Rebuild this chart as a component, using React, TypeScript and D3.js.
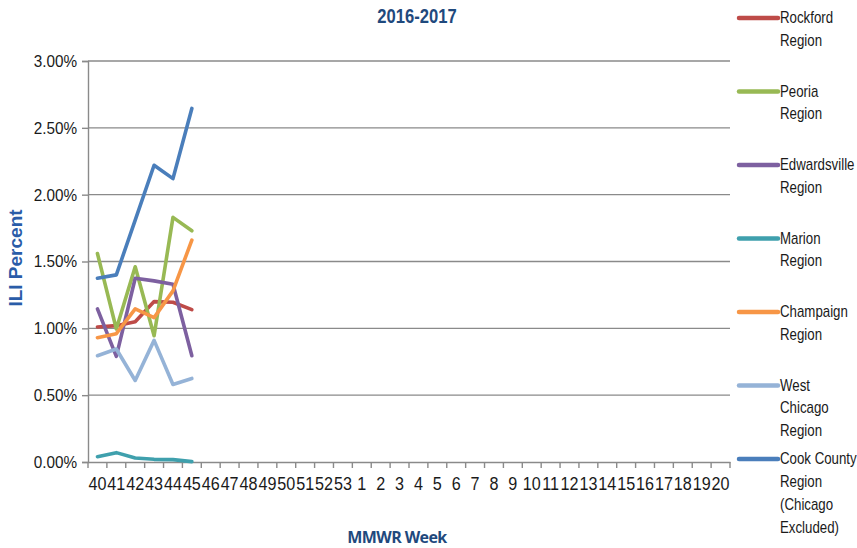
import React, { useRef, useEffect } from 'react';
import * as d3 from 'd3';

const weeks = [
  '40', '41', '42', '43', '44', '45', '46', '47', '48', '49', '50', '51', '52', '53',
  '1', '2', '3', '4', '5', '6', '7', '8', '9', '10', '11', '12', '13', '14', '15', '16', '17', '18', '19', '20',
];

const seriesNames = [
  'Rockford Region',
  'Peoria Region',
  'Edwardsville Region',
  'Marion Region',
  'Champaign Region',
  'West Chicago Region',
  'Cook County Region (Chicago Excluded)',
];

const legendLines = [
  ['Rockford', 'Region'],
  ['Peoria', 'Region'],
  ['Edwardsville', 'Region'],
  ['Marion', 'Region'],
  ['Champaign', 'Region'],
  ['West', 'Chicago', 'Region'],
  ['Cook County', 'Region', '(Chicago', 'Excluded)'],
];

const colors = ['#be4b48', '#98b954', '#7d60a0', '#3fa0ad', '#f79646', '#95b3d7', '#4a7ebb'];

// ILI percent, weeks 40-45
const rockford = [1.01, 1.02, 1.05, 1.2, 1.195, 1.14];
const peoria = [1.56, 0.995, 1.46, 0.945, 1.83, 1.73];
const edwardsville = [1.145, 0.79, 1.375, 1.355, 1.33, 0.795];
const marion = [0.04, 0.07, 0.03, 0.02, 0.018, 0.003];
const champaign = [0.93, 0.96, 1.145, 1.08, 1.28, 1.66];
const westChicago = [0.795, 0.845, 0.61, 0.91, 0.58, 0.625];
const cookCounty = [1.375, 1.4, 1.81, 2.22, 2.12, 2.645];

const yTicks = [0, 0.5, 1, 1.5, 2, 2.5, 3];

const seriesValues = [rockford, peoria, edwardsville, marion, champaign, westChicago, cookCounty];

const sans = "'Liberation Sans', Arial, sans-serif";
const squeeze = 0.83;

const Chart = () => {
  const ref = useRef<SVGSVGElement>(null);

  useEffect(() => {
    const svg = d3.select(ref.current);
    svg.selectAll('*').remove();

    const left = 88;
    const right = 730;
    const top = 61;
    const bottom = 462;

    const x = d3.scaleBand().domain(weeks).range([left, right]);
    const y = d3.scaleLinear().domain([0, 3]).range([bottom, top]);

    // gridlines
    svg
      .append('g')
      .selectAll('line')
      .data(yTicks.filter((d) => d > 0))
      .enter()
      .append('line')
      .attr('x1', left)
      .attr('x2', right)
      .attr('y1', (d) => y(d))
      .attr('y2', (d) => y(d))
      .attr('stroke', '#8a8a8a')
      .attr('stroke-width', 1.4);

    // y axis
    const yAxis = d3
      .axisLeft(y)
      .tickValues(yTicks)
      .tickSize(6)
      .tickFormat((d) => `${(+d).toFixed(2)}%`);
    const yg = svg.append('g').attr('transform', `translate(${left},0)`).call(yAxis);
    yg.select('.domain').attr('stroke', '#8a8a8a').attr('stroke-width', 1.4);
    yg.selectAll('.tick line').attr('stroke', '#8a8a8a').attr('stroke-width', 1.4);
    yg.selectAll('.tick text')
      .attr('x', -11 / 0.9)
      .attr('transform', 'scale(0.9,1)')
      .attr('fill', '#1a1a1a')
      .style('font-family', sans)
      .style('font-size', '17px');

    // x axis
    const xAxis = d3.axisBottom(x).tickSize(0).tickPadding(15);
    const xg = svg.append('g').attr('transform', `translate(0,${bottom})`).call(xAxis);
    xg.select('.domain').attr('stroke', '#8a8a8a').attr('stroke-width', 1.4);
    xg.selectAll('.tick text')
      .attr('transform', 'scale(0.85,1)')
      .attr('fill', '#1a1a1a')
      .style('font-family', sans)
      .style('font-size', '19px');
    xg.selectAll('.boundary')
      .data(d3.range(weeks.length + 1))
      .enter()
      .append('line')
      .attr('class', 'boundary')
      .attr('x1', (i) => left + i * x.step())
      .attr('x2', (i) => left + i * x.step())
      .attr('y1', 0)
      .attr('y2', 6)
      .attr('stroke', '#8a8a8a')
      .attr('stroke-width', 1.4);

    // lines
    const line = d3
      .line<number>()
      .x((_, i) => (x(weeks[i]) as number) + x.bandwidth() / 2)
      .y((d) => y(d));

    svg
      .append('g')
      .selectAll('path')
      .data(seriesValues)
      .enter()
      .append('path')
      .attr('d', (d) => line(d))
      .attr('fill', 'none')
      .attr('stroke', (_, i) => colors[i])
      .attr('stroke-width', 3.6)
      .attr('stroke-linejoin', 'round')
      .attr('stroke-linecap', 'round');

    // titles
    svg
      .append('text')
      .attr('transform', `translate(417,23) scale(${squeeze},1)`)
      .attr('text-anchor', 'middle')
      .attr('fill', '#1f497d')
      .style('font-family', sans)
      .style('font-weight', 'bold')
      .style('font-size', '20px')
      .text('2016-2017');

    svg
      .append('text')
      .attr('transform', 'translate(22,258) rotate(-90)')
      .attr('text-anchor', 'middle')
      .attr('fill', '#2a5ca8')
      .style('font-family', sans)
      .style('font-weight', 'bold')
      .style('font-size', '19px')
      .text('ILI Percent');

    svg
      .append('text')
      .attr('x', 397)
      .attr('y', 543)
      .attr('text-anchor', 'middle')
      .attr('fill', '#1f497d')
      .style('font-family', "'Open Sans', 'Liberation Sans', sans-serif")
      .style('font-weight', 'bold')
      .style('font-size', '16px')
      .style('letter-spacing', '-0.6px')
      .text('MMWR Week');

    // legend
    const legendY = d3.scalePoint().domain(seriesNames).range([18, 459]);
    const lg = svg
      .append('g')
      .selectAll('g')
      .data(seriesNames)
      .enter()
      .append('g')
      .attr('transform', (d) => `translate(739,${legendY(d)})`);

    lg.append('line')
      .attr('x1', 0)
      .attr('x2', 39)
      .attr('y1', 0)
      .attr('y2', 0)
      .attr('stroke', (_, i) => colors[i])
      .attr('stroke-width', 4.5)
      .attr('stroke-linecap', 'round');

    lg.append('text')
      .attr('transform', `translate(41,5) scale(${squeeze},1)`)
      .attr('fill', '#1a1a1a')
      .style('font-family', sans)
      .style('font-size', '16px')
      .selectAll('tspan')
      .data((_, i) => legendLines[i])
      .enter()
      .append('tspan')
      .attr('x', 0)
      .attr('dy', (_, j) => (j === 0 ? 0 : 23))
      .text((t) => t);
  }, []);

  return <svg ref={ref} width={857} height={548} style={{ display: 'block' }} />;
};

export default function App() {
  return (
    <div style={{ position: 'fixed', left: 0, top: 0, background: '#fff' }}>
      <Chart />
    </div>
  );
}
